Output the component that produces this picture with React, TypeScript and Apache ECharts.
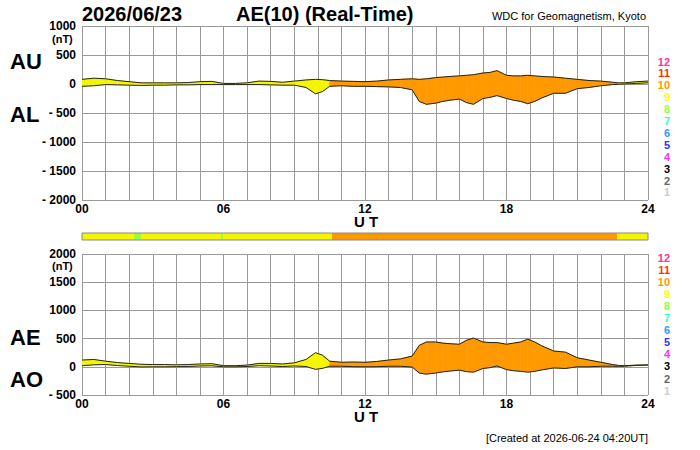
import { useEffect, useRef } from 'react';
import * as echarts from 'echarts';

// UT hours
const times = [0, 0.5, 1, 1.5, 2, 2.5, 3, 3.5, 4, 4.5, 5, 5.5, 6, 6.5, 7, 7.5, 8, 8.5, 9, 9.5, 9.9, 10.2, 10.5, 11, 11.5, 12, 12.5, 13, 13.5, 14, 14.3, 14.6, 15, 15.3, 15.6, 16, 16.3, 16.6, 17, 17.3, 17.6, 18, 18.3, 18.6, 18.9, 19.2, 19.5, 20, 20.5, 21, 21.5, 22, 22.5, 22.75, 23, 23.5, 24];
const au = [80, 100, 90, 60, 40, 20, 20, 20, 20, 25, 40, 45, 10, 10, 20, 50, 45, 30, 50, 70, 80, 75, 60, 50, 45, 40, 50, 70, 80, 90, 80, 90, 110, 120, 130, 140, 150, 160, 190, 200, 230, 150, 140, 140, 150, 140, 130, 120, 100, 80, 60, 50, 30, 20, 20, 40, 50];
const al = [-40, -30, -10, -15, -20, -25, -20, -20, -15, -15, -10, -10, -10, -10, -10, -10, -15, -20, -20, -60, -170, -130, -40, -30, -40, -40, -45, -50, -60, -100, -300, -350, -330, -300, -280, -260, -320, -350, -250, -230, -200, -250, -280, -300, -340, -300, -240, -160, -160, -80, -60, -30, -10, -5, 0, 10, 20];

// fill colour segments [start, end, colour]
const fillSegs: [number, number, string][] = [
    [0, 10.5, '#f5f500'],
    [10.5, 22.75, '#ff9900'],
    [22.75, 24, '#f5f500'],
];
// activity bar between panels
const barSegs: [number, number, string][] = [
    [0, 2.2, '#f5f500'], [2.2, 2.5, '#99ff33'], [2.5, 5.9, '#f5f500'], [5.9, 6.0, '#99ff33'],
    [6.0, 10.6, '#f5f500'], [10.6, 22.7, '#ff9900'], [22.7, 24, '#f5f500'],
];
const levelLabels = ['12', '11', '10', '9', '8', '7', '6', '5', '4', '3', '2', '1'];
const levelColors = ['#ff3399', '#ff3300', '#ff9900', '#ffff00', '#99ff33', '#33ffcc', '#3399ff', '#3333ff', '#ff33ff', '#000000', '#666666', '#cccccc'];

const ae = au.map((u, i) => u - al[i]);
const ao = au.map((u, i) => (u + al[i]) / 2);

const font = "'Liberation Sans', Arial, sans-serif";

const segColor = (t: number) => {
    const s = fillSegs.find(([a, b]) => t >= a && t < b);
    return s ? s[2] : fillSegs[fillSegs.length - 1][2];
};

export default function App() {
    const ref = useRef<HTMLDivElement>(null);

    useEffect(() => {
        document.body.style.margin = '0';
        if (!ref.current) return;
        const chart = echarts.init(ref.current, null, { renderer: 'svg' });

        const yLabel = (v: number) => (v < 0 ? '- ' + -v : String(v));
        const xAxisBase = (gridIndex: number) => ({
            type: 'value' as const, gridIndex, min: 0, max: 24, interval: 1,
            axisLine: { show: false }, axisTick: { show: false },
            splitLine: { show: true, lineStyle: { color: '#999', width: 1 } },
            axisLabel: {
                color: '#000', fontFamily: font, fontWeight: 'bold' as const, fontSize: 12, margin: 3,
                formatter: (v: number) => (v % 6 === 0 ? String(v).padStart(2, '0') : ''),
            },
        });
        const yAxisBase = (gridIndex: number, min: number, max: number) => ({
            type: 'value' as const, gridIndex, min, max, interval: 500,
            axisLine: { show: false }, axisTick: { show: false },
            splitLine: { show: true, lineStyle: { color: '#999', width: 1 } },
            axisLabel: { color: '#000', fontFamily: font, fontWeight: 'bold' as const, fontSize: 12, margin: 6, formatter: yLabel },
        });

        const series: any[] = [];
        const bands = (xi: number, lo: number[], hi: number[]) => {
            // one quad per interval, filled between lo and hi
            const quads = times.slice(0, -1).map((t, i) => [t, times[i + 1], lo[i], hi[i], lo[i + 1], hi[i + 1]]);
            series.push({
                type: 'custom', xAxisIndex: xi, yAxisIndex: xi, silent: true, clip: true,
                data: quads,
                renderItem: (params: any, api: any) => {
                    const t0 = api.value(0), t1 = api.value(1);
                    const pts = [
                        api.coord([t0, api.value(3)]), api.coord([t1, api.value(5)]),
                        api.coord([t1, api.value(4)]), api.coord([t0, api.value(2)]),
                    ];
                    const c = segColor((t0 + t1) / 2);
                    return { type: 'polygon', shape: { points: pts }, style: { fill: c, stroke: c, lineWidth: 0.6 } };
                },
            });
            [lo, hi].forEach(arr => series.push({
                type: 'line', xAxisIndex: xi, yAxisIndex: xi, symbol: 'none', silent: true, z: 5,
                lineStyle: { color: '#222', width: 1 },
                data: times.map((t, i) => [t, arr[i]]),
            }));
        };
        bands(0, al, au);
        bands(1, ao, ae);

        // activity colour bar
        barSegs.forEach(([a, b, c]) => series.push({
            type: 'bar', xAxisIndex: 2, yAxisIndex: 2, stack: 'bar', barWidth: 7, silent: true,
            itemStyle: { color: c }, data: [b - a],
        }));

        const graphic: any[] = [
            { type: 'text', left: 82, top: 4, style: { text: '2026/06/23', font: `bold 20px ${font}`, fill: '#000' } },
            { type: 'text', left: 236, top: 4, style: { text: 'AE(10) (Real-Time)', font: `bold 20px ${font}`, fill: '#000' } },
            { type: 'text', right: 54, top: 10, style: { text: 'WDC for Geomagnetism, Kyoto', font: `11px ${font}`, fill: '#000' } },
            { type: 'text', left: 10, top: 50, style: { text: 'AU', font: `bold 22px ${font}`, fill: '#000' } },
            { type: 'text', left: 10, top: 103, style: { text: 'AL', font: `bold 22px ${font}`, fill: '#000' } },
            { type: 'text', left: 10, top: 326, style: { text: 'AE', font: `bold 22px ${font}`, fill: '#000' } },
            { type: 'text', left: 10, top: 368, style: { text: 'AO', font: `bold 22px ${font}`, fill: '#000' } },
            { type: 'text', left: 52, top: 33, style: { text: '(nT)', font: `bold 11px ${font}`, fill: '#000' } },
            { type: 'text', left: 52, top: 260, style: { text: '(nT)', font: `bold 11px ${font}`, fill: '#000' } },
            { type: 'text', left: 354, top: 214, style: { text: 'U T', font: `bold 15px ${font}`, fill: '#000' } },
            { type: 'text', left: 354, top: 409, style: { text: 'U T', font: `bold 15px ${font}`, fill: '#000' } },
            { type: 'text', right: 52, top: 432, style: { text: '[Created at 2026-06-24 04:20UT]', font: `11px ${font}`, fill: '#000' } },
            { type: 'rect', shape: { x: 82, y: 233, width: 566, height: 7 }, style: { fill: 'none', stroke: '#888', lineWidth: 1 }, z: 10 },
        ];
        levelLabels.forEach((l, i) => {
            graphic.push({ type: 'text', right: 30, top: 56 + i * 11.9, style: { text: l, font: `bold 11px ${font}`, fill: levelColors[i], align: 'right' } });
            graphic.push({ type: 'text', right: 30, top: 252 + i * 12.1, style: { text: l, font: `bold 11px ${font}`, fill: levelColors[i], align: 'right' } });
        });

        chart.setOption({
            animation: false,
            backgroundColor: '#fff',
            grid: [
                { left: 82, right: 52, top: 26, height: 174 },
                { left: 82, right: 52, top: 254, height: 141 },
                { left: 82, right: 52, top: 233, height: 7 },
            ],
            xAxis: [
                xAxisBase(0),
                xAxisBase(1),
                { type: 'value', gridIndex: 2, min: 0, max: 24, show: false },
            ],
            yAxis: [
                yAxisBase(0, -2000, 1000),
                yAxisBase(1, -500, 2000),
                { type: 'category', gridIndex: 2, data: ['bar'], show: false },
            ],
            series,
            graphic,
        });
        return () => chart.dispose();
    }, []);

    return <div ref={ref} style={{ width: 700, height: 450 }} />;
}
